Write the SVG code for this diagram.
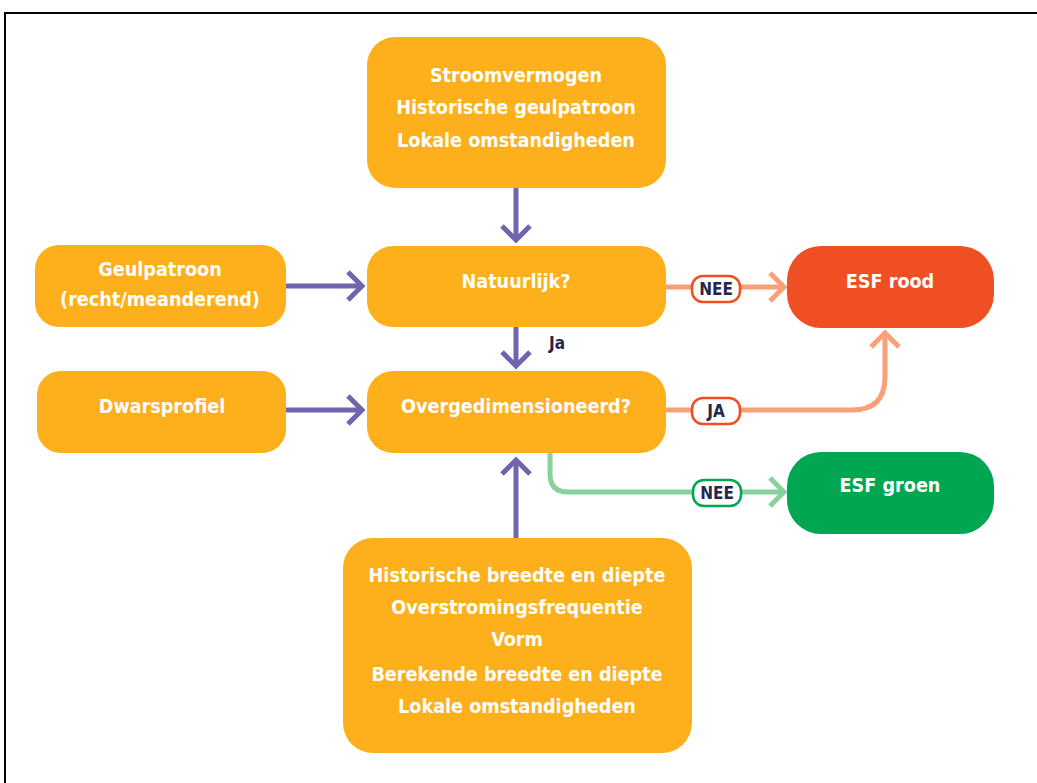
<svg xmlns="http://www.w3.org/2000/svg" width="1037" height="783" viewBox="0 0 1037 783">
  <style>
    .box { fill: #fdb01b; }
    .t { font-family: "DejaVu Sans Condensed", "DejaVu Sans", sans-serif; font-weight: bold; font-size: 19.6px; fill: #ffffff; text-anchor: middle; }
    .lbl { font-family: "DejaVu Sans Condensed", "DejaVu Sans", sans-serif; font-weight: bold; font-size: 17px; fill: #26264a; text-anchor: middle; }
    .flow { fill: none; stroke: #7064ae; stroke-width: 5; }
    .red { fill: none; stroke: #f9a079; stroke-width: 5; }
    .grn { fill: none; stroke: #88d29c; stroke-width: 5; }
  </style>

  <rect x="0" y="0" width="1037" height="783" fill="#ffffff"/>
  <!-- frame -->
  <path d="M5,783 V13 H1037" fill="none" stroke="#000000" stroke-width="2"/>

  <!-- connectors -->
  <g id="connectors">
    <!-- purple inputs -->
    <path class="flow" d="M516,188 V240"/>
    <path class="flow" d="M502,226 L516,240 L530,226"/>
    <path class="flow" d="M286,286 H362"/>
    <path class="flow" d="M348,272 L362,286 L348,300"/>
    <path class="flow" d="M516,327 V366"/>
    <path class="flow" d="M502,352 L516,366 L530,352"/>
    <path class="flow" d="M286,410 H362"/>
    <path class="flow" d="M348,396 L362,410 L348,424"/>
    <path class="flow" d="M516,538 V460"/>
    <path class="flow" d="M502,474 L516,460 L530,474"/>

    <!-- NEE to ESF rood -->
    <path class="red" d="M666,287 H784"/>
    <path class="red" d="M770,273 L784,287 L770,301"/>
    <!-- JA to ESF rood -->
    <path class="red" d="M666,410 H852 Q885,410 885,377 V333"/>
    <path class="red" d="M871,347 L885,333 L899,347"/>
    <!-- NEE to ESF groen -->
    <path class="grn" d="M550,453 V474 Q550,492 568,492 H784"/>
    <path class="grn" d="M770,478 L784,492 L770,506"/>

    <!-- pills -->
    <g id="lbl-nee-rood">
      <rect x="692" y="276" width="48" height="26" rx="11" fill="#ffffff" stroke="#f04e23" stroke-width="2.5"/>
      <text class="lbl" x="716" y="295">NEE</text>
    </g>
    <g id="lbl-ja-rood">
      <rect x="692" y="398" width="48" height="26" rx="11" fill="#ffffff" stroke="#f04e23" stroke-width="2.5"/>
      <text class="lbl" x="716" y="417">JA</text>
    </g>
    <g id="lbl-nee-groen">
      <rect x="693" y="480" width="48" height="26" rx="11" fill="#ffffff" stroke="#00a651" stroke-width="2.5"/>
      <text class="lbl" x="717" y="499">NEE</text>
    </g>
    <text class="lbl" x="549" y="349" style="text-anchor:start">Ja</text>
  </g>

  <!-- nodes -->
  <g id="node-inputs-top">
    <rect class="box" x="367" y="37" width="299" height="151" rx="28"/>
    <text class="t" x="516" y="82">Stroomvermogen</text>
    <text class="t" x="516" y="114">Historische geulpatroon</text>
    <text class="t" x="516" y="147">Lokale omstandigheden</text>
  </g>
  <g id="node-geulpatroon">
    <rect class="box" x="35" y="245" width="251" height="82" rx="24"/>
    <text class="t" x="160" y="276">Geulpatroon</text>
    <text class="t" x="160" y="306">(recht/meanderend)</text>
  </g>
  <g id="node-natuurlijk">
    <rect class="box" x="367" y="246" width="299" height="81" rx="26"/>
    <text class="t" x="516" y="288">Natuurlijk?</text>
  </g>
  <g id="node-esf-rood">
    <rect x="787" y="246" width="207" height="82" rx="34" fill="#f04e23"/>
    <text class="t" x="890" y="288">ESF rood</text>
  </g>
  <g id="node-dwarsprofiel">
    <rect class="box" x="37" y="371" width="249" height="82" rx="24"/>
    <text class="t" x="162" y="413">Dwarsprofiel</text>
  </g>
  <g id="node-overgedimensioneerd">
    <rect class="box" x="367" y="371" width="299" height="82" rx="26"/>
    <text class="t" x="516" y="413">Overgedimensioneerd?</text>
  </g>
  <g id="node-esf-groen">
    <rect x="787" y="452" width="207" height="82" rx="34" fill="#00a651"/>
    <text class="t" x="890" y="492">ESF groen</text>
  </g>
  <g id="node-inputs-bottom">
    <rect class="box" x="343" y="538" width="349" height="215" rx="30"/>
    <text class="t" x="517" y="582">Historische breedte en diepte</text>
    <text class="t" x="517" y="614">Overstromingsfrequentie</text>
    <text class="t" x="517" y="646">Vorm</text>
    <text class="t" x="517" y="681">Berekende breedte en diepte</text>
    <text class="t" x="517" y="713">Lokale omstandigheden</text>
  </g>
</svg>
